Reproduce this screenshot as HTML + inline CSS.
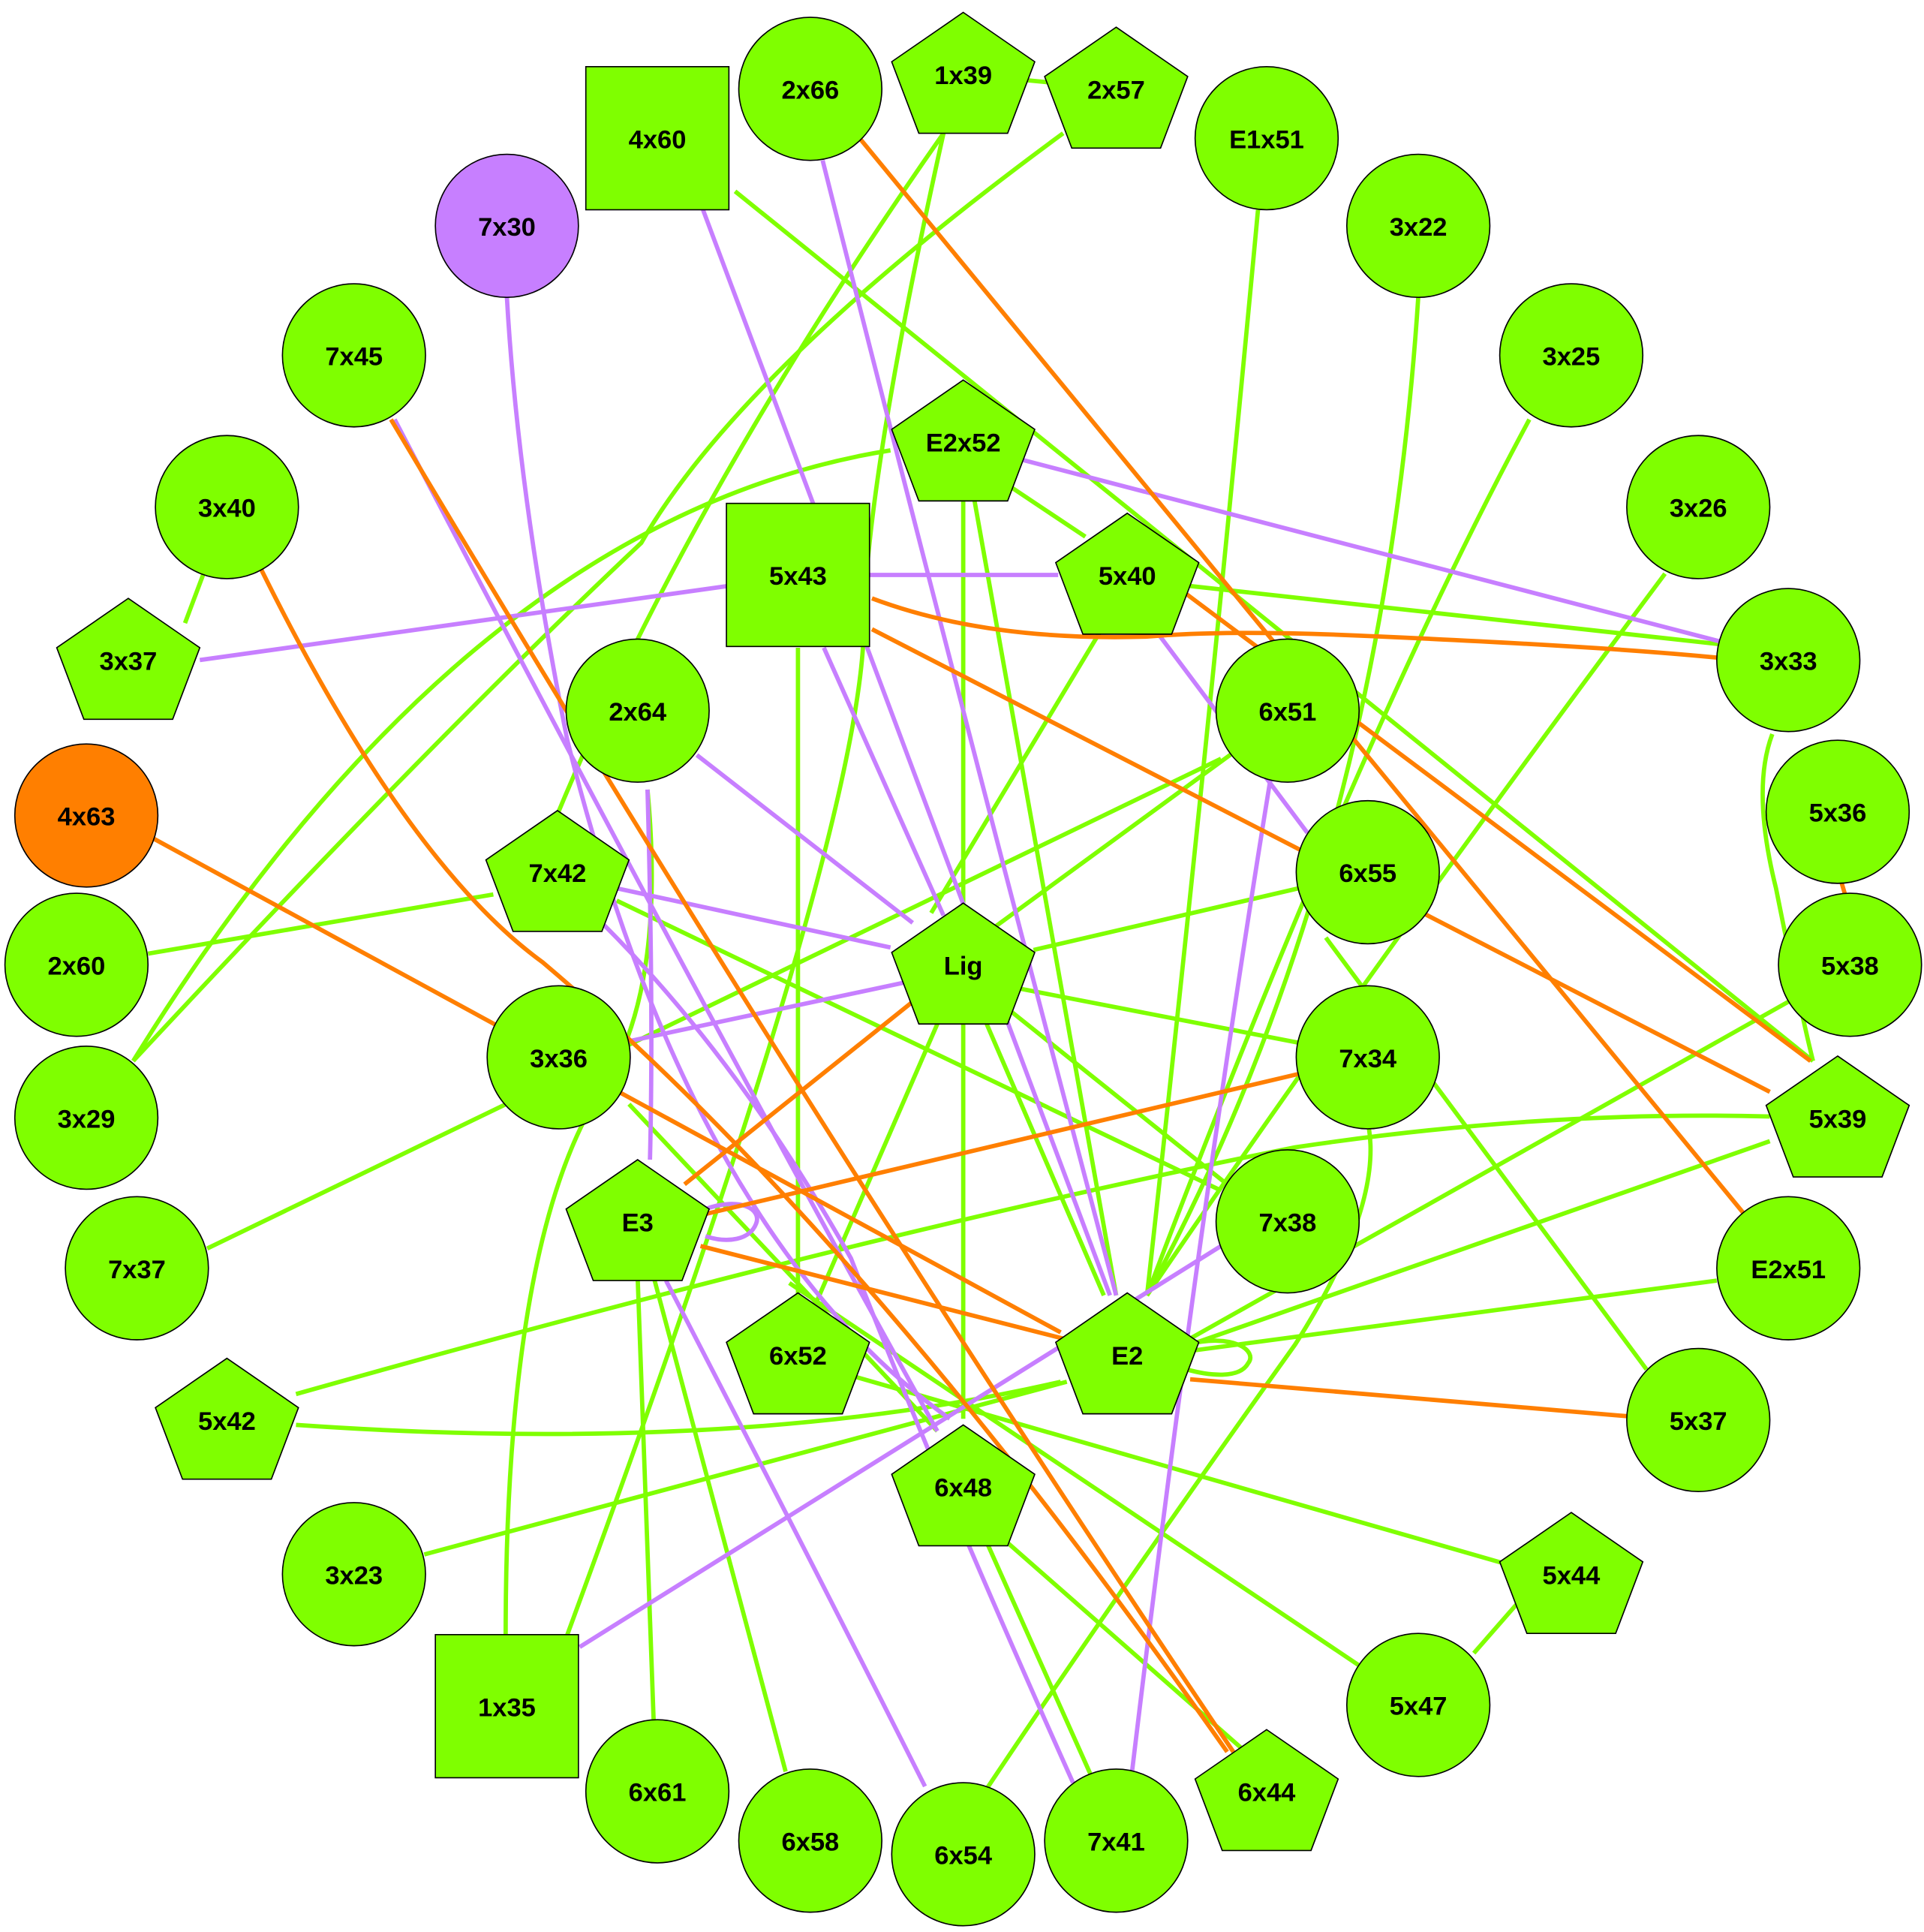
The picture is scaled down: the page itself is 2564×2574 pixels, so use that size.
<!DOCTYPE html>
<html><head><meta charset="utf-8"><style>html,body{margin:0;padding:0;background:#fff}svg{display:block}</style></head>
<body>
<svg width="2564" height="2574" viewBox="0 0 1560 1566" xmlns="http://www.w3.org/2000/svg">
<g fill="none" stroke-width="3.5">
<g stroke="#7fff00">
<line x1="781" y1="60" x2="905" y2="72"/>
<path d="M765,108 Q560,400 452,660"/>
<path d="M765,108 Q700,400 700,520 Q690,700 460,1325"/>
<path d="M862,108 Q600,300 520,440 Q350,600 108,860"/>
<line x1="596" y1="155" x2="1470" y2="860"/>
<path d="M1020,170 Q980,600 930,1050"/>
<path d="M1150,240 Q1120,700 930,1050"/>
<path d="M1240,340 Q1100,600 930,1050"/>
<path d="M1350,465 Q1100,800 930,1050"/>
<path d="M722,365 Q380,420 108,860"/>
<line x1="781" y1="405" x2="781" y2="1150"/>
<line x1="820" y1="395" x2="880" y2="435"/>
<line x1="790" y1="405" x2="905" y2="1050"/>
<line x1="647" y1="525" x2="647" y2="1050"/>
<line x1="965" y1="475" x2="1393" y2="522"/>
<line x1="892" y1="512" x2="755" y2="740"/>
<line x1="760" y1="830" x2="660" y2="1060"/>
<line x1="1000" y1="610" x2="740" y2="800"/>
<line x1="990" y1="615" x2="168" y2="1012"/>
<line x1="1053" y1="720" x2="838" y2="770"/>
<line x1="820" y1="800" x2="1052" y2="845"/>
<line x1="800" y1="830" x2="895" y2="1050"/>
<line x1="820" y1="820" x2="995" y2="960"/>
<line x1="400" y1="725" x2="120" y2="773"/>
<line x1="500" y1="730" x2="990" y2="965"/>
<path d="M1437,595 Q1420,640 1440,720 Q1460,820 1470,860"/>
<line x1="1435" y1="925" x2="965" y2="1090"/>
<path d="M1435,905 Q1250,900 1050,930 Q700,1000 240,1130"/>
<line x1="1450" y1="812" x2="965" y2="1085"/>
<line x1="1392" y1="1038" x2="965" y2="1095"/>
<path d="M860,1120 Q600,1180 240,1155"/>
<line x1="865" y1="1120" x2="344" y2="1260"/>
<path d="M962,1090 C1000,1080 1020,1095 1012,1105 C1005,1118 980,1115 962,1110"/>
<line x1="510" y1="895" x2="760" y2="1160"/>
<line x1="805" y1="1240" x2="1010" y2="1420"/>
<line x1="800" y1="1250" x2="885" y2="1440"/>
<line x1="690" y1="1115" x2="1222" y2="1268"/>
<line x1="1230" y1="1300" x2="1195" y2="1340"/>
<line x1="640" y1="1040" x2="1105" y2="1352"/>
<path d="M525,640 Q540,800 490,880 Q410,1000 410,1325"/>
<line x1="517" y1="1035" x2="530" y2="1395"/>
<line x1="530" y1="1035" x2="637" y2="1436"/>
<path d="M1110,915 Q1120,980 1050,1090 Q900,1300 800,1450"/>
<line x1="150" y1="505" x2="165" y2="465"/>
<line x1="1075" y1="760" x2="1335" y2="1110"/>
</g>
<g stroke="#c77fff">
<path d="M411,241 Q420,400 460,600 Q560,1000 770,1150"/>
<line x1="570" y1="170" x2="900" y2="1050"/>
<path d="M667,130 Q760,500 905,1050"/>
<line x1="830" y1="373" x2="1395" y2="520"/>
<line x1="705" y1="466" x2="858" y2="466"/>
<line x1="590" y1="475" x2="162" y2="535"/>
<line x1="668" y1="525" x2="765" y2="742"/>
<line x1="940" y1="515" x2="1060" y2="675"/>
<line x1="565" y1="612" x2="740" y2="748"/>
<line x1="500" y1="720" x2="722" y2="768"/>
<line x1="740" y1="795" x2="505" y2="845"/>
<path d="M320,340 Q560,800 760,1160"/>
<path d="M490,750 Q600,860 690,1020 Q760,1200 870,1445"/>
<path d="M1030,632 Q970,1000 918,1435"/>
<path d="M525,640 Q530,820 527,940"/>
<path d="M572,980 C600,970 618,980 613,992 C608,1005 590,1008 572,1002"/>
<path d="M540,1038 Q650,1250 750,1448"/>
<line x1="990" y1="1010" x2="470" y2="1335"/>
</g>
<g stroke="#ff7f00">
<line x1="697" y1="112" x2="1415" y2="985"/>
<path d="M707,485 Q800,520 930,516 Q1000,510 1120,516 Q1300,524 1392,533"/>
<line x1="707" y1="510" x2="1435" y2="885"/>
<line x1="960" y1="480" x2="1468" y2="860"/>
<path d="M317,340 Q650,900 1000,1420"/>
<path d="M212,462 Q330,700 440,780 Q700,1000 995,1420"/>
<line x1="125" y1="680" x2="860" y2="1080"/>
<line x1="740" y1="812" x2="555" y2="960"/>
<line x1="568" y1="985" x2="1055" y2="870"/>
<line x1="568" y1="1010" x2="862" y2="1085"/>
<line x1="965" y1="1118" x2="1320" y2="1148"/>
<line x1="1493" y1="715" x2="1496" y2="725"/>
</g>
</g>
<g stroke="#000" stroke-width="1" fill="#7fff00">
<circle cx="657" cy="72" r="58"/>
<circle cx="1027" cy="112" r="58"/>
<circle cx="411" cy="183" r="58" fill="#c77fff"/>
<circle cx="1150" cy="183" r="58"/>
<circle cx="287" cy="288" r="58"/>
<circle cx="1274" cy="288" r="58"/>
<circle cx="184" cy="411" r="58"/>
<circle cx="1377" cy="411" r="58"/>
<circle cx="1450" cy="535" r="58"/>
<circle cx="517" cy="576" r="58"/>
<circle cx="1044" cy="576" r="58"/>
<circle cx="70" cy="661" r="58" fill="#ff7f00"/>
<circle cx="1490" cy="658" r="58"/>
<circle cx="1109" cy="707" r="58"/>
<circle cx="62" cy="782" r="58"/>
<circle cx="1500" cy="782" r="58"/>
<circle cx="453" cy="857" r="58"/>
<circle cx="1109" cy="857" r="58"/>
<circle cx="70" cy="906" r="58"/>
<circle cx="1044" cy="990" r="58"/>
<circle cx="111" cy="1028" r="58"/>
<circle cx="1450" cy="1028" r="58"/>
<circle cx="1377" cy="1151" r="58"/>
<circle cx="287" cy="1276" r="58"/>
<circle cx="1150" cy="1382" r="58"/>
<circle cx="533" cy="1452" r="58"/>
<circle cx="657" cy="1492" r="58"/>
<circle cx="781" cy="1503" r="58"/>
<circle cx="905" cy="1492" r="58"/>
<rect x="475" y="54" width="116" height="116"/>
<rect x="589" y="408" width="116" height="116"/>
<rect x="353" y="1325" width="116" height="116"/>
<g id="pents">
<polygon points="781,10 839,50 817,108 745,108 723,50"/>
<polygon points="905,22 963,62 941,120 869,120 847,62"/>
<polygon points="781,308 839,348 817,406 745,406 723,348"/>
<polygon points="914,416 972,456 950,514 878,514 856,456"/>
<polygon points="104,485 162,525 140,583 68,583 46,525"/>
<polygon points="452,657 510,697 488,755 416,755 394,697"/>
<polygon points="781,732 839,772 817,830 745,830 723,772"/>
<polygon points="1490,856 1548,896 1526,954 1454,954 1432,896"/>
<polygon points="517,940 575,980 553,1038 481,1038 459,980"/>
<polygon points="647,1048 705,1088 683,1146 611,1146 589,1088"/>
<polygon points="914,1048 972,1088 950,1146 878,1146 856,1088"/>
<polygon points="184,1101 242,1141 220,1199 148,1199 126,1141"/>
<polygon points="781,1155 839,1195 817,1253 745,1253 723,1195"/>
<polygon points="1274,1226 1332,1266 1310,1324 1238,1324 1216,1266"/>
<polygon points="1027,1402 1085,1442 1063,1500 991,1500 969,1442"/>
</g>
</g>
<g font-family="Liberation Sans, Arial, sans-serif" font-weight="bold" font-size="21" text-anchor="middle" fill="#000">
<text x="657" y="80">2x66</text><text x="781" y="68">1x39</text><text x="905" y="80">2x57</text>
<text x="533" y="120">4x60</text><text x="1027" y="120">E1x51</text><text x="411" y="191">7x30</text>
<text x="1150" y="191">3x22</text><text x="287" y="296">7x45</text><text x="1274" y="296">3x25</text>
<text x="781" y="366">E2x52</text><text x="184" y="419">3x40</text><text x="1377" y="419">3x26</text>
<text x="647" y="474">5x43</text><text x="914" y="474">5x40</text><text x="104" y="543">3x37</text>
<text x="1450" y="543">3x33</text><text x="517" y="584">2x64</text><text x="1044" y="584">6x51</text>
<text x="70" y="669">4x63</text><text x="1490" y="666">5x36</text><text x="452" y="715">7x42</text>
<text x="1109" y="715">6x55</text><text x="781" y="790">Lig</text><text x="62" y="790">2x60</text>
<text x="1500" y="790">5x38</text><text x="453" y="865">3x36</text><text x="1109" y="865">7x34</text>
<text x="70" y="914">3x29</text><text x="1490" y="914">5x39</text><text x="517" y="998">E3</text>
<text x="1044" y="998">7x38</text><text x="111" y="1036">7x37</text><text x="1450" y="1036">E2x51</text>
<text x="647" y="1106">6x52</text><text x="914" y="1106">E2</text><text x="184" y="1159">5x42</text>
<text x="1377" y="1159">5x37</text><text x="781" y="1213">6x48</text><text x="287" y="1284">3x23</text>
<text x="1274" y="1284">5x44</text><text x="411" y="1391">1x35</text><text x="1150" y="1390">5x47</text>
<text x="533" y="1460">6x61</text><text x="1027" y="1460">6x44</text><text x="657" y="1500">6x58</text>
<text x="781" y="1511">6x54</text><text x="905" y="1500">7x41</text>
</g>
</svg>
</body></html>
